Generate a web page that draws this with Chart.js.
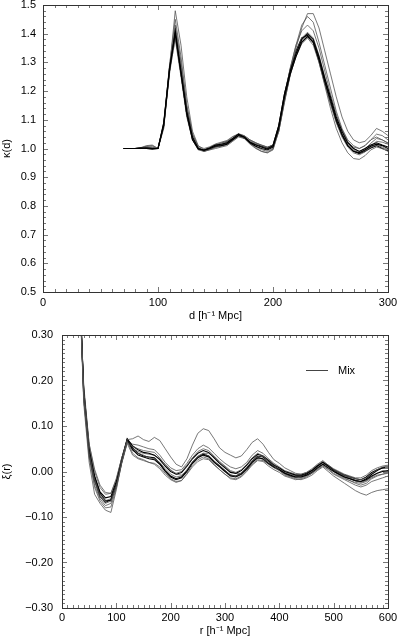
<!DOCTYPE html>
<html>
<head>
<meta charset="utf-8">
<script src="https://cdn.jsdelivr.net/npm/chart.js@4.4.1/dist/chart.umd.min.js"></script>
<style>
body { margin: 0; background: #fff; }
canvas { position: absolute; left: 0; }
#kappaChart { top: 0; }
#xiChart { top: 330px; }
</style>
</head>
<body>
<canvas id="kappaChart" width="398" height="330"></canvas>
<canvas id="xiChart" width="398" height="311"></canvas>
<script>
// ---- top panel: kappa(d) ----
const dGrid = [70,75,80,85,90,95,100,105,110,115,120,125,130,135,140,145,150,155,160,165,170,175,180,185,190,195,200,205,210,215,220,225,230,235,240,245,250,255,260,265,270,275,280,285,290,295,300];

const kappa0 = [1.0,1.0,1.0,1.002,1.0,0.998,1.0,1.08,1.27,1.41,1.27,1.13,1.04,1.0,0.993,1.0,1.008,1.01,1.015,1.03,1.045,1.04,1.022,1.012,1.005,0.998,1.01,1.08,1.19,1.27,1.33,1.38,1.40,1.38,1.32,1.245,1.18,1.11,1.06,1.02,1.0,0.99,1.0,1.012,1.02,1.012,1.005];
const kappa1 = [1.0,1.0,1.0,1.0,1.002,1.0,1.0,1.09,1.28,1.40,1.26,1.12,1.03,0.998,0.995,1.002,1.012,1.015,1.02,1.035,1.05,1.04,1.02,1.008,1.0,0.995,1.005,1.07,1.18,1.26,1.32,1.37,1.39,1.37,1.31,1.235,1.17,1.10,1.05,1.01,0.99,0.985,0.995,1.008,1.015,1.01,1.0];
const kappa2 = [1.0,1.0,1.0,1.0,1.005,1.002,1.0,1.07,1.28,1.48,1.36,1.18,1.06,1.01,0.995,1.0,1.01,1.02,1.025,1.035,1.05,1.045,1.03,1.02,1.012,1.005,1.01,1.06,1.16,1.26,1.35,1.42,1.47,1.47,1.42,1.34,1.26,1.18,1.11,1.06,1.03,1.02,1.025,1.045,1.07,1.06,1.045];
const kappa3 = [1.0,1.0,1.0,1.003,1.01,1.012,1.0,1.08,1.29,1.45,1.32,1.15,1.05,1.005,0.99,0.998,1.005,1.012,1.02,1.035,1.048,1.04,1.025,1.015,1.005,1.0,1.008,1.07,1.18,1.28,1.36,1.43,1.46,1.44,1.37,1.29,1.21,1.13,1.07,1.03,1.01,1.0,1.01,1.03,1.05,1.045,1.03];
const kappa4 = [1.0,1.0,1.0,1.0,1.0,1.0,1.0,1.09,1.27,1.38,1.25,1.11,1.03,0.998,0.992,0.998,1.005,1.015,1.022,1.035,1.048,1.038,1.028,1.018,1.012,1.005,1.012,1.075,1.185,1.28,1.36,1.41,1.43,1.41,1.35,1.27,1.19,1.12,1.065,1.025,1.0,0.99,0.998,1.018,1.035,1.03,1.02];
const kappa5 = [1.0,1.0,1.0,1.002,1.008,1.01,1.0,1.08,1.27,1.40,1.27,1.12,1.03,0.995,0.99,0.995,1.0,1.005,1.01,1.025,1.04,1.035,1.015,1.0,0.99,0.985,0.995,1.06,1.17,1.26,1.33,1.38,1.40,1.37,1.30,1.22,1.14,1.07,1.02,0.985,0.965,0.962,0.975,0.995,1.005,1.0,0.99];
const kappa6 = [1.0,1.0,1.0,1.0,1.004,1.006,1.0,1.085,1.27,1.42,1.29,1.14,1.04,1.002,0.996,1.004,1.014,1.018,1.025,1.04,1.052,1.044,1.03,1.02,1.01,1.002,1.008,1.07,1.17,1.26,1.32,1.365,1.385,1.36,1.30,1.225,1.155,1.09,1.04,1.005,0.985,0.978,0.988,1.005,1.012,1.005,0.995];
const kappa7 = [1.0,1.0,1.0,1.001,1.0,0.999,1.0,1.075,1.26,1.39,1.26,1.12,1.035,0.998,0.99,0.996,1.004,1.008,1.014,1.028,1.044,1.036,1.018,1.006,0.996,0.99,1.0,1.065,1.175,1.265,1.335,1.385,1.405,1.385,1.325,1.25,1.175,1.105,1.05,1.015,0.995,0.985,0.992,1.008,1.025,1.022,1.015];
const kappa8 = [1.0,1.0,1.0,1.0,1.0,1.0,1.0,1.085,1.28,1.40,1.26,1.12,1.035,1.0,0.994,1.002,1.01,1.012,1.018,1.032,1.046,1.036,1.022,1.014,1.008,1.002,1.012,1.08,1.19,1.275,1.34,1.385,1.395,1.37,1.305,1.23,1.16,1.095,1.045,1.01,0.99,0.982,0.99,1.002,1.01,1.0,0.992];
const kappa9 = [1.0,1.0,1.0,1.002,1.006,1.004,1.0,1.08,1.27,1.43,1.30,1.15,1.05,1.008,1.0,1.006,1.016,1.022,1.028,1.042,1.05,1.04,1.018,1.002,0.99,0.985,0.998,1.06,1.165,1.255,1.325,1.375,1.395,1.375,1.315,1.24,1.165,1.1,1.05,1.02,1.005,1.0,1.01,1.03,1.04,1.03,1.018];

const kappaSeries = [kappa0, kappa1, kappa2, kappa3, kappa4, kappa5, kappa6, kappa7, kappa8, kappa9];
const kappaBlack = [0, 1, 8];
const dTicks = [0, 100, 200, 300];
const kappaTicks = [0.5, 0.6, 0.7, 0.8, 0.9, 1.0, 1.1, 1.2, 1.3, 1.4, 1.5];

// ---- bottom panel: xi(r) ----
const rGrid = [30,40,50,60,70,80,90,100,110,120,130,140,150,160,170,180,190,200,210,220,230,240,250,260,270,280,290,300,310,320,330,340,350,360,370,380,390,400,410,420,430,440,450,460,470,480,490,500,510,520,530,540,550,560,570,580,590,600];

const xi0 = [0.46,0.18,0.06,0.0,-0.035,-0.05,-0.048,-0.015,0.03,0.07,0.072,0.078,0.07,0.066,0.075,0.068,0.05,0.032,0.016,0.01,0.028,0.058,0.084,0.094,0.09,0.072,0.052,0.042,0.036,0.03,0.034,0.048,0.064,0.072,0.06,0.042,0.026,0.018,0.008,0.002,-0.004,-0.006,-0.002,0.006,0.016,0.024,0.014,0.004,-0.002,-0.008,-0.012,-0.016,-0.018,-0.014,-0.004,0.004,0.01,0.012];
const xi1 = [0.5,0.15,0.02,-0.05,-0.07,-0.085,-0.09,-0.04,0.02,0.066,0.04,0.03,0.026,0.02,0.018,0.01,-0.004,-0.016,-0.022,-0.02,-0.004,0.014,0.026,0.032,0.028,0.016,0.004,-0.006,-0.016,-0.018,-0.012,0.0,0.014,0.024,0.022,0.012,0.004,-0.002,-0.01,-0.014,-0.018,-0.016,-0.012,-0.004,0.004,0.012,0.004,-0.006,-0.012,-0.018,-0.024,-0.03,-0.034,-0.03,-0.022,-0.018,-0.014,-0.01];
const xi2 = [0.47,0.16,0.04,-0.02,-0.055,-0.07,-0.065,-0.03,0.02,0.064,0.055,0.05,0.046,0.044,0.042,0.03,0.014,0.002,-0.004,0.0,0.014,0.03,0.044,0.05,0.046,0.034,0.022,0.012,0.002,-0.002,0.004,0.016,0.03,0.04,0.034,0.022,0.012,0.002,-0.008,-0.012,-0.016,-0.018,-0.014,-0.008,0.002,0.01,0.0,-0.01,-0.018,-0.026,-0.034,-0.042,-0.048,-0.052,-0.046,-0.042,-0.04,-0.038];
const xi3 = [0.49,0.17,0.04,-0.02,-0.055,-0.068,-0.062,-0.028,0.024,0.07,0.048,0.036,0.032,0.028,0.026,0.016,0.0,-0.012,-0.018,-0.014,0.0,0.018,0.03,0.036,0.032,0.02,0.01,0.0,-0.01,-0.012,-0.006,0.006,0.02,0.03,0.028,0.018,0.01,0.004,-0.004,-0.008,-0.012,-0.012,-0.008,-0.002,0.008,0.016,0.008,0.0,-0.006,-0.012,-0.016,-0.02,-0.022,-0.018,-0.01,-0.004,0.0,0.002];
const xi4 = [0.47,0.18,0.05,-0.01,-0.045,-0.058,-0.055,-0.022,0.028,0.072,0.056,0.048,0.042,0.04,0.036,0.026,0.012,0.0,-0.006,-0.002,0.012,0.028,0.04,0.046,0.042,0.03,0.018,0.008,-0.002,-0.004,0.002,0.014,0.028,0.038,0.034,0.024,0.014,0.008,0.0,-0.004,-0.008,-0.008,-0.004,0.002,0.012,0.02,0.012,0.004,-0.002,-0.008,-0.012,-0.016,-0.018,-0.012,-0.002,0.004,0.008,0.008];
const xi5 = [0.45,0.19,0.06,0.005,-0.03,-0.046,-0.048,-0.018,0.03,0.068,0.06,0.058,0.054,0.05,0.048,0.036,0.02,0.008,0.002,0.004,0.018,0.036,0.05,0.058,0.052,0.04,0.028,0.018,0.01,0.006,0.01,0.02,0.036,0.046,0.04,0.028,0.018,0.01,0.002,-0.002,-0.006,-0.006,-0.002,0.004,0.014,0.022,0.014,0.006,0.0,-0.006,-0.01,-0.014,-0.014,-0.008,0.002,0.008,0.012,0.014];
const xi6 = [0.5,0.16,0.03,-0.03,-0.06,-0.075,-0.07,-0.034,0.018,0.062,0.036,0.028,0.024,0.02,0.016,0.006,-0.008,-0.018,-0.024,-0.02,-0.006,0.01,0.022,0.028,0.026,0.014,0.004,-0.006,-0.014,-0.016,-0.01,0.002,0.016,0.026,0.024,0.016,0.008,0.002,-0.006,-0.01,-0.014,-0.014,-0.01,-0.004,0.006,0.014,0.006,-0.004,-0.01,-0.016,-0.02,-0.024,-0.026,-0.022,-0.014,-0.008,-0.006,-0.004];
const xi7 = [0.48,0.17,0.045,-0.015,-0.05,-0.064,-0.06,-0.026,0.022,0.066,0.05,0.044,0.04,0.038,0.036,0.028,0.016,0.004,-0.006,-0.008,0.002,0.018,0.032,0.04,0.04,0.032,0.02,0.01,0.0,-0.004,-0.004,0.004,0.018,0.03,0.034,0.026,0.016,0.008,0.0,-0.004,-0.008,-0.01,-0.008,-0.002,0.006,0.016,0.014,0.004,-0.004,-0.01,-0.014,-0.02,-0.024,-0.02,-0.012,-0.004,0.002,0.0];
const xi8 = [0.5,0.16,0.035,-0.035,-0.065,-0.08,-0.078,-0.036,0.02,0.066,0.046,0.04,0.036,0.03,0.028,0.02,0.006,-0.006,-0.012,-0.01,0.004,0.02,0.034,0.04,0.034,0.022,0.012,0.002,-0.008,-0.01,-0.004,0.008,0.022,0.032,0.026,0.016,0.01,0.006,-0.002,-0.006,-0.01,-0.012,-0.008,0.0,0.01,0.02,0.01,0.0,-0.008,-0.014,-0.02,-0.026,-0.03,-0.026,-0.016,-0.01,-0.006,-0.002];
const xi9 = [0.47,0.175,0.05,-0.012,-0.048,-0.064,-0.064,-0.03,0.024,0.07,0.052,0.04,0.034,0.032,0.03,0.018,0.002,-0.01,-0.016,-0.012,0.002,0.02,0.032,0.038,0.034,0.022,0.012,0.002,-0.008,-0.01,-0.004,0.008,0.022,0.034,0.032,0.022,0.012,0.004,-0.004,-0.01,-0.012,-0.01,-0.006,0.002,0.012,0.02,0.012,0.002,-0.006,-0.012,-0.016,-0.02,-0.022,-0.016,-0.006,0.002,0.008,0.01];

const xiSeries = [xi0, xi1, xi2, xi3, xi4, xi5, xi6, xi7, xi8, xi9];
const xiBlack = [3, 4, 9];
const rTicks = [0, 100, 200, 300, 400, 500, 600];
const xiTicks = [-0.3, -0.2, -0.1, 0.0, 0.1, 0.2, 0.3];

Chart.defaults.font.family = "'Liberation Sans', Arial, Helvetica, sans-serif";
Chart.defaults.font.size = 11;
Chart.defaults.color = '#000';

// inward ticks on all four sides plus the frame
const frameTicks = {
  id: 'frameTicks',
  afterDraw(chart, args, opts) {
    const { ctx, chartArea: a, scales: { x, y } } = chart;
    ctx.save();
    ctx.strokeStyle = '#777';
    ctx.lineWidth = 1;
    ctx.beginPath();
    const nx = Math.round((x.max - x.min) / opts.xMinor);
    for (let i = 0; i <= nx; i++) {
      const v = x.min + i * opts.xMinor;
      const px = Math.round(x.getPixelForValue(v)) + 0.5;
      const len = Math.abs(v / opts.xMajor - Math.round(v / opts.xMajor)) < 1e-6 ? 5 : 3;
      ctx.moveTo(px, a.bottom); ctx.lineTo(px, a.bottom - len);
      ctx.moveTo(px, a.top); ctx.lineTo(px, a.top + len);
    }
    const ny = Math.round((y.max - y.min) / opts.yMinor);
    for (let i = 0; i <= ny; i++) {
      const v = y.min + i * opts.yMinor;
      const py = Math.round(y.getPixelForValue(v)) + 0.5;
      const len = Math.abs(v / opts.yMajor - Math.round(v / opts.yMajor)) < 1e-6 ? 5 : 3;
      ctx.moveTo(a.left, py); ctx.lineTo(a.left + len, py);
      ctx.moveTo(a.right, py); ctx.lineTo(a.right - len, py);
    }
    ctx.stroke();
    ctx.strokeStyle = '#333';
    ctx.strokeRect(Math.round(a.left) + 0.5, Math.round(a.top) + 0.5, Math.round(a.width), Math.round(a.height));
    if (opts.legend) {
      const lx = a.right - 82, ly = a.top + 35;
      ctx.strokeStyle = '#444';
      ctx.beginPath();
      ctx.moveTo(lx, ly + 0.5); ctx.lineTo(lx + 22, ly + 0.5);
      ctx.stroke();
      ctx.fillStyle = '#000';
      ctx.font = "11px 'Liberation Sans', Arial, sans-serif";
      ctx.textBaseline = 'middle';
      ctx.fillText(opts.legend, lx + 32, ly + 1);
    }
    ctx.restore();
  }
};

function lineSets(grid, series, blacks) {
  return series.map((s, k) => ({
    label: k === 0 ? 'Mix' : '',
    data: grid.map((g, i) => ({ x: g, y: s[i] })),
    borderColor: blacks.includes(k) ? '#000' : '#555',
    borderWidth: blacks.includes(k) ? 1.1 : 0.8,
    pointRadius: 0,
    tension: 0,
    fill: false
  }));
}

function minus(str) { return str.replace('-', '\u2212'); }

function axisOpts(o) {
  return {
    type: 'linear',
    min: o.min,
    max: o.max,
    grid: { display: false, drawTicks: false },
    border: { display: false },
    afterBuildTicks: s => { s.ticks = o.ticks.map(v => ({ value: v })); },
    afterFit: s => {
      if (o.width !== undefined) s.width = o.width;
      if (o.height !== undefined) s.height = o.height;
      s.paddingTop = 0; s.paddingBottom = 0; s.paddingLeft = 0; s.paddingRight = 0;
    },
    ticks: {
      padding: o.pad,
      maxRotation: 0,
      autoSkip: false,
      callback: v => minus(Number(v).toFixed(o.digits))
    },
    title: { display: true, text: o.title, padding: o.titlePad, font: { size: 11 } }
  };
}

new Chart(document.getElementById('kappaChart'), {
  type: 'line',
  data: { datasets: lineSets(dGrid, kappaSeries, kappaBlack) },
  options: {
    responsive: false,
    animation: false,
    events: [],
    layout: { padding: { top: 5, right: 10, left: 0, bottom: 0 } },
    plugins: {
      legend: { display: false },
      tooltip: { enabled: false },
      frameTicks: { xMinor: 10, xMajor: 100, yMinor: 0.02, yMajor: 0.1 }
    },
    scales: {
      x: axisOpts({ min: 0, max: 300, ticks: dTicks, digits: 0, pad: 4, height: 38,
        title: 'd [h\u207B\u00B9 Mpc]', titlePad: { top: 0, bottom: 7 } }),
      y: axisOpts({ min: 0.5, max: 1.5, ticks: kappaTicks, digits: 1, pad: 7, width: 43,
        title: '\u03BA(d)', titlePad: { top: 0, bottom: 0 } })
    }
  },
  plugins: [frameTicks]
});

new Chart(document.getElementById('xiChart'), {
  type: 'line',
  data: { datasets: lineSets(rGrid, xiSeries, xiBlack) },
  options: {
    responsive: false,
    animation: false,
    events: [],
    layout: { padding: { top: 5, right: 10, left: 0, bottom: 0 } },
    plugins: {
      legend: { display: false },
      tooltip: { enabled: false },
      frameTicks: { xMinor: 10, xMajor: 100, yMinor: 0.01, yMajor: 0.1, legend: 'Mix' }
    },
    scales: {
      x: axisOpts({ min: 0, max: 600, ticks: rTicks, digits: 0, pad: 3, height: 33,
        title: 'r [h\u207B\u00B9 Mpc]', titlePad: { top: 0, bottom: 3 } }),
      y: axisOpts({ min: -0.3, max: 0.3, ticks: xiTicks, digits: 2, pad: 9, width: 62,
        title: '\u03BE(r)', titlePad: { top: 0, bottom: 0 } })
    }
  },
  plugins: [frameTicks]
});
</script>
</body>
</html>
